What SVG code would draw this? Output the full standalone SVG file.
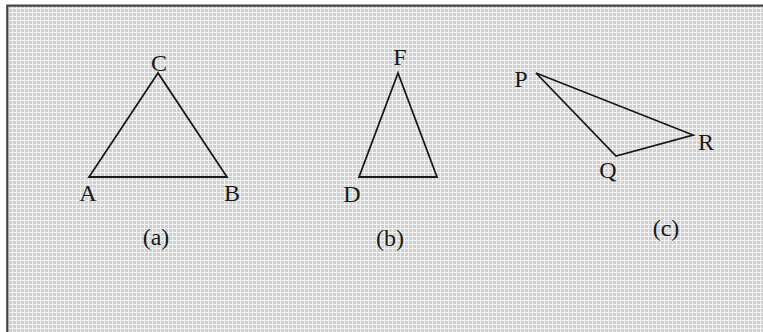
<svg xmlns="http://www.w3.org/2000/svg" width="763" height="332" viewBox="0 0 763 332">
  <defs>
    <pattern id="grid" x="0" y="0" width="4" height="4" patternUnits="userSpaceOnUse">
      <rect width="4" height="4" fill="#d0d0d0"/>
      <rect x="0" y="0" width="4" height="1" fill="#f2f2f2"/>
      <rect x="0" y="0" width="1" height="4" fill="#f2f2f2"/>
    </pattern>
  </defs>
  <style>
    .tri { fill: none; stroke: #1a1a1a; stroke-width: 1.8; stroke-linejoin: miter; }
    .lbl { font-family: "Liberation Serif", "Times New Roman", serif; font-size: 24px; fill: #1a1a1a; text-anchor: middle; }
    .frame { stroke: #444444; stroke-width: 2.2; fill: none; }
  </style>
  <rect x="0" y="0" width="763" height="332" fill="#ffffff"/>
  <rect x="7" y="5.5" width="756" height="326.5" fill="url(#grid)"/>
  <path class="frame" d="M7.3,332 V5.7 H763"/>

  <g id="triangle-a">
    <polygon class="tri" points="158,73 89,177 227,177"/>
    <text class="lbl" x="159" y="71">C</text>
    <text class="lbl" x="88" y="201">A</text>
    <text class="lbl" x="232" y="201">B</text>
    <text class="lbl" x="156" y="245">(a)</text>
  </g>

  <g id="triangle-b">
    <polygon class="tri" points="398,73 359,177 437,177"/>
    <text class="lbl" x="400" y="65">F</text>
    <text class="lbl" x="352" y="202">D</text>
    <text class="lbl" x="390" y="246">(b)</text>
  </g>

  <g id="triangle-c">
    <polygon class="tri" points="536,73 693,135 616,156"/>
    <text class="lbl" x="521" y="87">P</text>
    <text class="lbl" x="706" y="150">R</text>
    <text class="lbl" x="608" y="178">Q</text>
    <text class="lbl" x="666" y="236">(c)</text>
  </g>

  <g id="connectors"></g>
</svg>
